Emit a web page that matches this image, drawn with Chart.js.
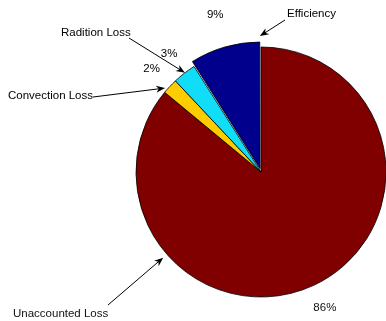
<!DOCTYPE html>
<html>
<head>
<meta charset="utf-8">
<script src="https://cdn.jsdelivr.net/npm/chart.js@4"></script>
<style>
  html, body { margin: 0; padding: 0; background: #fff; }
  #wrap { width: 386px; height: 321px; }
</style>
</head>
<body>
<div id="wrap"><canvas id="pieChart"></canvas></div>
<script>
const labels = ["Unaccounted Loss", "Convection Loss", "Radition Loss", "Efficiency"];
const values = [86, 2, 3, 9];
const colors = ["#800000", "#FFCC00", "#11DDF8", "#00008C"];
const offsets = [0, 0, 0, 14];

// where each name label sits and where its arrow starts / ends
// tipAt = fraction along the slice, tipR = fraction of radius
const callouts = [
  { text: "Unaccounted Loss", x: 13, y: 314, tailX: 108, tailY: 305, tipAt: 0.739, tipR: 1.04 },
  { text: "Convection Loss", x: 8, y: 96, tailX: 93, tailY: 97, tipAt: 0.22, tipR: 1.02 },
  { text: "Radition Loss", x: 61, y: 33, tailX: 129, tailY: 38, tipAt: 0.53, tipR: 1.0 },
  { text: "Efficiency", x: 287, y: 14, tailX: 285, tailY: 20, tipAt: 1.04, tipR: 0.98 },
];

function drawArrow(ctx, x1, y1, x2, y2) {
  const ang = Math.atan2(y2 - y1, x2 - x1);
  const len = 9, half = 3.5;
  ctx.beginPath();
  ctx.moveTo(x1, y1);
  ctx.lineTo(x2 - Math.cos(ang) * len * 0.6, y2 - Math.sin(ang) * len * 0.6);
  ctx.strokeStyle = "#000";
  ctx.lineWidth = 1;
  ctx.stroke();
  ctx.beginPath();
  ctx.moveTo(x2, y2);
  ctx.lineTo(x2 - Math.cos(ang) * len - Math.sin(ang) * half, y2 - Math.sin(ang) * len + Math.cos(ang) * half);
  ctx.lineTo(x2 - Math.cos(ang) * len * 0.7, y2 - Math.sin(ang) * len * 0.7);
  ctx.lineTo(x2 - Math.cos(ang) * len + Math.sin(ang) * half, y2 - Math.sin(ang) * len - Math.cos(ang) * half);
  ctx.closePath();
  ctx.fillStyle = "#000";
  ctx.fill();
}

const labelPlugin = {
  id: "pieLabels",
  afterDatasetsDraw(chart) {
    const ctx = chart.ctx;
    const meta = chart.getDatasetMeta(0);
    const total = values.reduce((a, b) => a + b, 0);
    ctx.save();
    ctx.font = "11.5px 'Liberation Sans', Arial, sans-serif";
    ctx.fillStyle = "#111";
    meta.data.forEach((arc, i) => {
      const p = arc.getProps(["x", "y", "startAngle", "endAngle", "outerRadius"], true);
      const mid = (p.startAngle + p.endAngle) / 2;
      const off = offsets[i];
      const cx = p.x + Math.cos(mid) * off;
      const cy = p.y + Math.sin(mid) * off;
      const r = p.outerRadius;

      // percent text
      const pct = Math.round(values[i] / total * 100) + "%";
      ctx.textAlign = "center";
      ctx.textBaseline = "middle";
      ctx.fillText(pct, cx + Math.cos(mid) * r * 1.2, cy + Math.sin(mid) * r * 1.2);

      // name + arrow
      const c = callouts[i];
      ctx.textAlign = "left";
      ctx.fillText(c.text, c.x, c.y);
      const a = p.startAngle + (p.endAngle - p.startAngle) * c.tipAt;
      const tx = cx + Math.cos(a) * r * c.tipR;
      const ty = cy + Math.sin(a) * r * c.tipR;
      drawArrow(ctx, c.tailX, c.tailY, tx, ty);
    });
    ctx.restore();
  }
};

new Chart(document.getElementById("pieChart"), {
  type: "pie",
  data: {
    labels: labels,
    datasets: [{
      data: values,
      backgroundColor: colors,
      borderColor: "#000",
      borderWidth: 0.8,
      offset: offsets,
      clip: false,
    }],
  },
  options: {
    responsive: true,
    maintainAspectRatio: false,
    animation: false,
    radius: 125,
    layout: { padding: { left: 136, right: 0, top: 23, bottom: 0 } },
    plugins: {
      legend: { display: false },
      tooltip: { enabled: false },
    },
  },
  plugins: [labelPlugin],
});
</script>
</body>
</html>
